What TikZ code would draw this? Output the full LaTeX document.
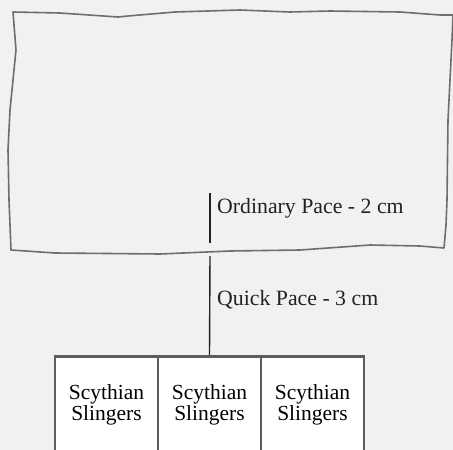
\documentclass[tikz,border=0pt]{standalone}
\usepackage{fontspec}
\setmainfont{Liberation Serif}
\definecolor{bg}{HTML}{F2F1EF}
\definecolor{edge}{HTML}{6E6E6E}
\definecolor{ink}{HTML}{222222}
\begin{document}
\begin{tikzpicture}[x=1pt,y=-1pt,
  sketch/.style={draw=edge,line width=1.6pt,line join=round},
  pace/.style={draw=ink,line width=1.4pt},
  lbl/.style={inner sep=0pt,anchor=base west,text=ink,font=\fontsize{21.8}{24}\selectfont},
  unitbox/.style={draw=edge!85!black,line width=2.8pt,fill=white,minimum width=103pt,minimum height=100pt,anchor=north,inner sep=0pt},
  unitname/.style={inner sep=0pt,anchor=base,font=\fontsize{21.5}{18}\selectfont,align=center,text=black}]
\fill[bg] (0,0) rectangle (453,450);
\useasboundingbox (0,0) rectangle (453,450);
\begin{scope}
\clip (0,0) rectangle (453,450);
% formation outline
\draw[sketch] (13,12) -- (60,13) -- (118,17) -- (128,16) -- (175,12) -- (240,10) -- (290,12) -- (330,11) -- (400,12) -- (440,15) -- (453,15)
  -- (452,40) -- (448,120) -- (447,200) -- (446,225) -- (444,248)
  -- (420,246) -- (370,245) -- (300,250) -- (230,251) -- (160,254) -- (55,253) -- (11,250)
  -- (9,200) -- (8,150) -- (10,110) -- (15,60) -- (16,50) -- cycle;
% units
\node[unitbox] (s1) at (106.5,355) {};
\node[unitbox] (s2) at (209.5,355) {};
\node[unitbox] (s3) at (312.5,355) {};
\node[unitname] (t1) at (106.5,420) {Scythian\\Slingers};
\node[unitname] (t2) at (209.5,420) {Scythian\\Slingers};
\node[unitname] (t3) at (312.5,420) {Scythian\\Slingers};
\end{scope}
% paces
\coordinate (o1) at (210,193);
\coordinate (o2) at (210,243);
\coordinate (q1) at (210,256);
\draw[pace] (o1) -- (o2);
\draw[pace] (q1) -- (s2.north);
\node[lbl] (ol) at (217,213) {Ordinary Pace - 2 cm};
\node[lbl] (ql) at (217,305) {Quick Pace - 3 cm};
\end{tikzpicture}
\end{document}
